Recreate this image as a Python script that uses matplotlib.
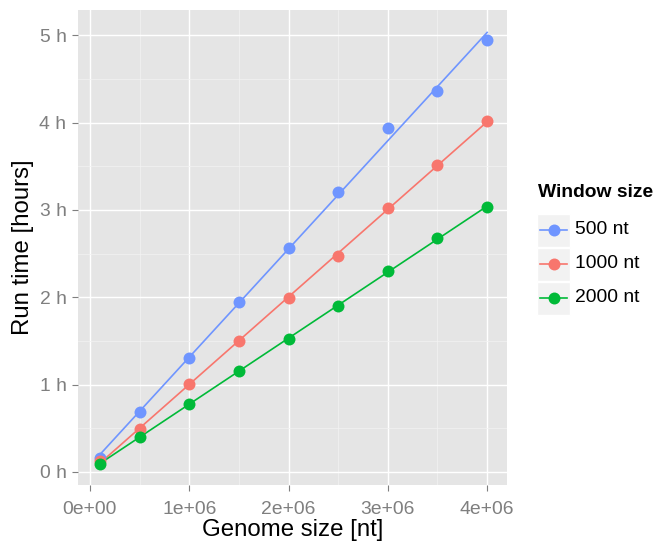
import numpy as np
import matplotlib
matplotlib.use("Agg")
import matplotlib.pyplot as plt
from matplotlib.patches import Rectangle
from matplotlib.lines import Line2D
from matplotlib.ticker import FixedLocator

plt.rcParams['font.family'] = ['Liberation Sans', 'DejaVu Sans']

genome_size = [1e5, 5e5, 1e6, 1.5e6, 2e6, 2.5e6, 3e6, 3.5e6, 4e6]
series_names = ["500 nt", "1000 nt", "2000 nt"]
hours_500 = [0.16, 0.69, 1.30, 1.945, 2.56, 3.20, 3.94, 4.36, 4.95]
hours_1000 = [0.12, 0.49, 1.01, 1.50, 1.99, 2.47, 3.02, 3.52, 4.02]
hours_2000 = [0.09, 0.40, 0.78, 1.16, 1.52, 1.90, 2.30, 2.68, 3.03]
colors = ["#6F95FF", "#F8766D", "#00BA38"]
x_ticks = [0, 1e6, 2e6, 3e6, 4e6]
x_ticklabels = ["0e+00", "1e+06", "2e+06", "3e+06", "4e+06"]
y_ticks = [0, 1, 2, 3, 4, 5]
y_ticklabels = ["0 h", "1 h", "2 h", "3 h", "4 h", "5 h"]

W, H = 657, 544
fig = plt.figure(figsize=(W / 100, H / 100), dpi=100)
L, R, T, B = 78, 507, 10, 485
ax = fig.add_axes([L / W, 1 - B / H, (R - L) / W, (B - T) / H])
ax.set_facecolor("#E5E5E5")
for s in ax.spines.values():
    s.set_visible(False)

ax.set_xlim(-0.12e6, 4.2e6)
ax.set_ylim(-0.15, 5.29)

ax.xaxis.set_major_locator(FixedLocator(x_ticks))
ax.yaxis.set_major_locator(FixedLocator(y_ticks))
ax.xaxis.set_minor_locator(FixedLocator([0.5e6, 1.5e6, 2.5e6, 3.5e6]))
ax.yaxis.set_minor_locator(FixedLocator([0.5, 1.5, 2.5, 3.5, 4.5]))
ax.set_xticklabels(x_ticklabels)
ax.set_yticklabels(y_ticklabels)
ax.grid(which="major", color="white", linewidth=1.0)
ax.grid(which="minor", color="#F2F2F2", linewidth=0.55)
ax.set_axisbelow(True)
ax.tick_params(which="major", length=4.3, width=0.8, color="#7F7F7F",
               labelsize=13.9, labelcolor="#7F7F7F")
ax.tick_params(axis="x", pad=7)
ax.tick_params(axis="y", pad=4)
ax.tick_params(which="minor", length=0)

xs = np.array(genome_size)
for ys, c in zip([hours_500, hours_1000, hours_2000], colors):
    k, b = np.polyfit(xs, np.array(ys), 1)
    xl = np.array([xs.min(), xs.max()])
    ax.plot(xl, k * xl + b, color=c, linewidth=1.2, zorder=3)
for ys, c in zip([hours_500, hours_1000, hours_2000], colors):
    ax.plot(xs, ys, 'o', color=c, markersize=8.6, zorder=4, markeredgewidth=0)

ax.set_xlabel("Genome size [nt]", fontsize=17.3, labelpad=1)
ax.set_ylabel("Run time [hours]", fontsize=17.3, labelpad=4)

# legend (drawn as figure decoration)
fig.text(538 / W, 1 - 192 / H, "Window size", fontsize=13.9, fontweight="bold",
         va="center", ha="left")
key_x0, key_w, key_h = 537, 33, 33
key_centers = [230, 264, 298]
for name, c, yc in zip(series_names, colors, key_centers):
    fig.add_artist(Rectangle((key_x0 / W, 1 - (yc + key_h / 2) / H), key_w / W, key_h / H,
                             transform=fig.transFigure, facecolor="#F2F2F2",
                             edgecolor="white", linewidth=1))
    fig.add_artist(Line2D([(key_x0 + 3) / W, (key_x0 + key_w - 3) / W],
                          [1 - yc / H, 1 - yc / H], transform=fig.transFigure,
                          color=c, linewidth=1.2))
    fig.add_artist(Line2D([(key_x0 + key_w / 2) / W], [1 - yc / H], transform=fig.transFigure,
                          color=c, marker='o', markersize=8.6, markeredgewidth=0))
    fig.text((key_x0 + key_w + 5) / W, 1 - yc / H, name, fontsize=13.9, va="center", ha="left")

fig.savefig("out.png", dpi=100)
